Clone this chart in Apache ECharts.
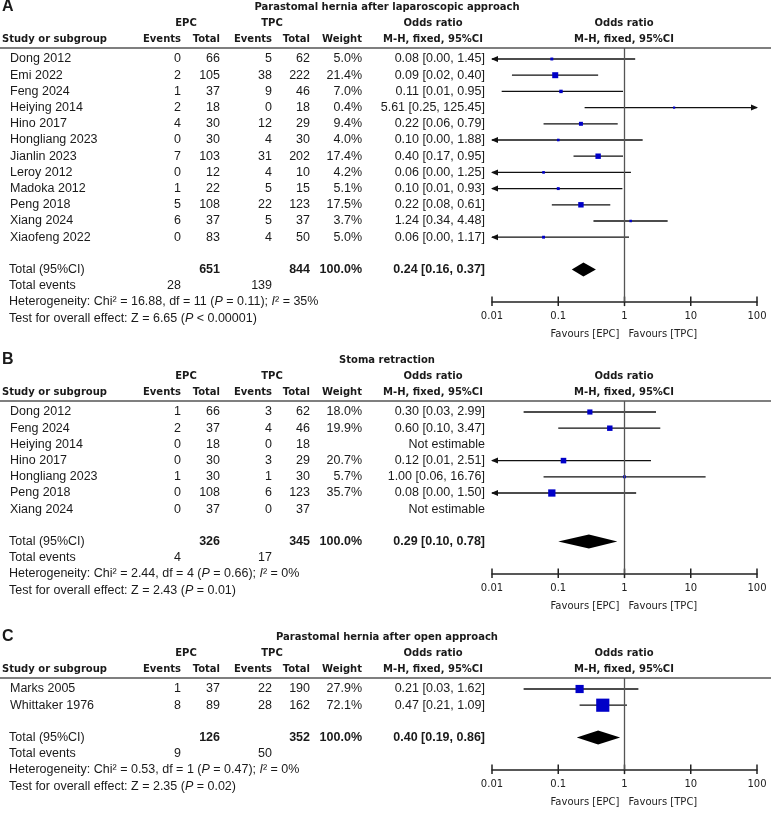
<!DOCTYPE html>
<html><head><meta charset="utf-8">
<script src="https://cdn.jsdelivr.net/npm/echarts@6/dist/echarts.min.js"></script>
<style>html,body{margin:0;padding:0;background:#fff}#c{width:771px;height:813px}</style>
</head><body><div id="c"></div>
<script>
// ---------- Panel A: Parastomal hernia after laparoscopic approach ----------
const A_studies = ['Dong 2012','Emi 2022','Feng 2024','Heiying 2014','Hino 2017','Hongliang 2023','Jianlin 2023','Leroy 2012','Madoka 2012','Peng 2018','Xiang 2024','Xiaofeng 2022'];
const A_epcEvents = [0,2,1,2,4,0,7,0,1,5,6,0];
const A_epcTotal  = [66,105,37,18,30,30,103,12,22,108,37,83];
const A_tpcEvents = [5,38,9,0,12,4,31,4,5,22,5,4];
const A_tpcTotal  = [62,222,46,18,29,30,202,10,15,123,37,50];
const A_weight    = [5.0,21.4,7.0,0.4,9.4,4.0,17.4,4.2,5.1,17.5,3.7,5.0];
const A_or        = [0.08,0.09,0.11,5.61,0.22,0.10,0.40,0.06,0.10,0.22,1.24,0.06];
const A_lo        = [0.00,0.02,0.014,0.25,0.06,0.00,0.17,0.00,0.008,0.08,0.34,0.00];
const A_hi        = [1.45,0.40,0.95,125.45,0.79,1.88,0.95,1.25,0.93,0.61,4.48,1.17];
const A_totals    = [651,844];
const A_totalOR   = [0.24,0.16,0.37];
const A_events    = [28,139];
const A_het       = ['16.88',11,'= 0.11',35];
const A_test      = ['6.65','< 0.00001'];

// ---------- Panel B: Stoma retraction ----------
const B_studies = ['Dong 2012','Feng 2024','Heiying 2014','Hino 2017','Hongliang 2023','Peng 2018','Xiang 2024'];
const B_epcEvents = [1,2,0,0,1,0,0];
const B_epcTotal  = [66,37,18,30,30,108,37];
const B_tpcEvents = [3,4,0,3,1,6,0];
const B_tpcTotal  = [62,46,18,29,30,123,37];
const B_weight    = [18.0,19.9,null,20.7,5.7,35.7,null];
const B_or        = [0.30,0.60,null,0.12,1.00,0.08,null];
const B_lo        = [0.03,0.10,null,0.006,0.06,0.00,null];
const B_hi        = [2.99,3.47,null,2.51,16.76,1.50,null];
const B_totals    = [326,345];
const B_totalOR   = [0.29,0.10,0.78];
const B_events    = [4,17];
const B_het       = ['2.44',4,'= 0.66',0];
const B_test      = ['2.43','= 0.01'];

// ---------- Panel C: Parastomal hernia after open approach ----------
const C_studies = ['Marks 2005','Whittaker 1976'];
const C_epcEvents = [1,8];
const C_epcTotal  = [37,89];
const C_tpcEvents = [22,28];
const C_tpcTotal  = [190,162];
const C_weight    = [27.9,72.1];
const C_or        = [0.21,0.47];
const C_lo        = [0.03,0.21];
const C_hi        = [1.62,1.09];
const C_totals    = [126,352];
const C_totalOR   = [0.40,0.19,0.86];
const C_events    = [9,50];
const C_het       = ['0.53',1,'= 0.47',0];
const C_test      = ['2.35','= 0.02'];

const tickLabels = ['0.01','0.1','1','10','100'];
const favours = ['Favours [EPC]','Favours [TPC]'];

// ---------- layout / style ----------
const ROW = 16.2;
const HB = 'bold 10px "DejaVu Sans"';
const REG = '12.5px "Liberation Sans"';
const REGB = 'bold 12.5px "Liberation Sans"';
const TXT = '#1a1a1a';
const COL = {name:10, foot:9, epcE:181, epcT:220, tpcE:272, tpcT:310, w:362, orR:485, orC:433, epcC:186, tpcC:272, title:387, plotC:624};

const panels = [
  {label:'A', title:'Parastomal hernia after laparoscopic approach', top:7, k:1.3,
   s:A_studies, ee:A_epcEvents, et:A_epcTotal, te:A_tpcEvents, tt:A_tpcTotal, w:A_weight, or:A_or, lo:A_lo, hi:A_hi,
   totals:A_totals, tor:A_totalOR, ev:A_events, het:A_het, test:A_test},
  {label:'B', title:'Stoma retraction', top:360, k:1.22,
   s:B_studies, ee:B_epcEvents, et:B_epcTotal, te:B_tpcEvents, tt:B_tpcTotal, w:B_weight, or:B_or, lo:B_lo, hi:B_hi,
   totals:B_totals, tor:B_totalOR, ev:B_events, het:B_het, test:B_test},
  {label:'C', title:'Parastomal hernia after open approach', top:637, k:1.55,
   s:C_studies, ee:C_epcEvents, et:C_epcTotal, te:C_tpcEvents, tt:C_tpcTotal, w:C_weight, or:C_or, lo:C_lo, hi:C_hi,
   totals:C_totals, tor:C_totalOR, ev:C_events, het:C_het, test:C_test}
];

function fmtOR(o,l,h){ return o.toFixed(2)+' ['+l.toFixed(2)+', '+h.toFixed(2)+']'; }
function T(x,text,align,font){ return {x, text:String(text), align:align||'left', font:font||REG}; }

function buildSpecs(p){
  const n = p.s.length, rows = [];
  rows.push({r:-52/ROW, items:[T(2,p.label,'left','bold 16px "Liberation Sans"'), T(COL.title,p.title,'center',HB)]});
  rows.push({r:-36/ROW, items:[T(COL.epcC,'EPC','center',HB),T(COL.tpcC,'TPC','center',HB),T(COL.orC,'Odds ratio','center',HB),T(COL.plotC,'Odds ratio','center',HB)]});
  rows.push({r:-20/ROW, items:[T(2,'Study or subgroup','left',HB),T(COL.epcE,'Events','right',HB),T(COL.epcT,'Total','right',HB),
      T(COL.tpcE,'Events','right',HB),T(COL.tpcT,'Total','right',HB),T(COL.w,'Weight','right',HB),
      T(COL.orC,'M-H, fixed, 95%CI','center',HB),T(COL.plotC,'M-H, fixed, 95%CI','center',HB)]});
  rows.push({r:-11/ROW, items:[], line:true});
  for(let j=0;j<n;j++){
    const it=[T(COL.name,p.s[j]),T(COL.epcE,p.ee[j],'right'),T(COL.epcT,p.et[j],'right'),T(COL.tpcE,p.te[j],'right'),T(COL.tpcT,p.tt[j],'right')];
    if(p.or[j]==null){ it.push(T(COL.orR,'Not estimable','right')); }
    else { it.push(T(COL.w,p.w[j].toFixed(1)+'%','right')); it.push(T(COL.orR,fmtOR(p.or[j],p.lo[j],p.hi[j]),'right')); }
    rows.push({r:j, items:it});
  }
  rows.push({r:n+1, items:[T(COL.foot,'Total (95%CI)'),T(COL.epcT,p.totals[0],'right',REGB),T(COL.tpcT,p.totals[1],'right',REGB),
      T(COL.w,'100.0%','right',REGB),T(COL.orR,fmtOR(p.tor[0],p.tor[1],p.tor[2]),'right',REGB)]});
  rows.push({r:n+2, items:[T(COL.foot,'Total events'),T(COL.epcE,p.ev[0],'right'),T(COL.tpcE,p.ev[1],'right')]});
  rows.push({r:n+3, items:[{x:COL.foot, align:'left', font:REG,
      text:'{n|Heterogeneity: Chi² = '+p.het[0]+', df = '+p.het[1]+' (}{i|P}{n| '+p.het[2]+'); }{i|I}{n|² = '+p.het[3]+'%}'}]});
  rows.push({r:n+4, items:[{x:COL.foot, align:'left', font:REG,
      text:'{n|Test for overall effect: Z = '+p.test[0]+' (}{i|P}{n| '+p.test[1]+')}'}]});
  return rows;
}

const rich = {
  n:{fontSize:12.5, fontFamily:'Liberation Sans', fill:TXT},
  i:{fontSize:12.5, fontFamily:'Liberation Sans', fontStyle:'italic', fill:TXT}
};

const grids=[], xAxes=[], yAxes=[], series=[];
panels.forEach((p,i)=>{
  const n = p.s.length;
  const yMin = -11/ROW, yMax = n+1+32/ROW;
  grids.push({left:492, width:265, top:p.top+41, height:ROW*(yMax-yMin), containLabel:false});
  xAxes.push({type:'log', logBase:10, min:0.01, max:100, gridIndex:i, position:'bottom',
    axisLine:{show:true, onZero:false, lineStyle:{color:'#222', width:1.5}}, axisTick:{show:false}, splitLine:{show:false},
    axisLabel:{margin:10, color:'#222', fontFamily:'DejaVu Sans', fontSize:10,
      formatter:v=>tickLabels[Math.round(Math.log10(v))+2]}});
  yAxes.push({type:'value', gridIndex:i, inverse:true, min:yMin, max:yMax, show:false});

  const specs = buildSpecs(p);
  series.push({type:'custom', xAxisIndex:i, yAxisIndex:i, clip:false, silent:true,
    data: specs.map(s=>[1,s.r]),
    renderItem:(params,api)=>{
      const s = specs[params.dataIndex];
      const y = api.coord([1,s.r])[1];
      const ch = s.items.map(t=>({type:'text', x:t.x, y:y,
        style:{text:t.text, align:t.align, verticalAlign:'middle', fill:TXT, font:t.font, rich:rich}}));
      if(s.line) ch.push({type:'line', shape:{x1:0,y1:y,x2:771,y2:y}, style:{stroke:'#555', lineWidth:1.6}});
      return {type:'group', children:ch};
    }});

  // study CIs and squares
  const ciData=[];
  for(let j=0;j<n;j++) if(p.or[j]!=null) ciData.push([p.or[j], j, p.lo[j], p.hi[j], p.w[j]]);
  series.push({type:'custom', xAxisIndex:i, yAxisIndex:i, clip:false, silent:true, data:ciData,
    renderItem:(params,api)=>{
      const o=api.value(0), r=api.value(1), lo=api.value(2), hi=api.value(3), w=api.value(4);
      const c=api.coord([o,r]), y=c[1];
      const xl=api.coord([Math.max(lo,0.01),r])[0], xh=api.coord([Math.min(hi,100),r])[0];
      const ch=[{type:'line', shape:{x1:xl,y1:y,x2:xh,y2:y}, style:{stroke:'#111', lineWidth:1.3}}];
      if(lo<0.01) ch.push({type:'polygon', shape:{points:[[xl-1,y],[xl+6,y-3],[xl+6,y+3]]}, style:{fill:'#111'}});
      if(hi>100) ch.push({type:'polygon', shape:{points:[[xh+1,y],[xh-6,y-3],[xh-6,y+3]]}, style:{fill:'#111'}});
      const sz=Math.max(2.2, p.k*Math.sqrt(w));
      ch.push({type:'rect', shape:{x:c[0]-sz/2, y:y-sz/2, width:sz, height:sz}, style:{fill:'#0000c8'}});
      return {type:'group', children:ch};
    },
    markLine:{silent:true, symbol:'none', label:{show:false}, animation:false,
      lineStyle:{color:'#555', width:1.3, type:'solid'}, data:[{xAxis:1}]}
  });

  // pooled diamond
  series.push({type:'custom', xAxisIndex:i, yAxisIndex:i, clip:false, silent:true,
    data:[[p.tor[0], n+1, p.tor[1], p.tor[2]]],
    renderItem:(params,api)=>{
      const o=api.value(0), r=api.value(1);
      const c=api.coord([o,r]), xl=api.coord([api.value(2),r])[0], xh=api.coord([api.value(3),r])[0];
      return {type:'polygon', shape:{points:[[xl,c[1]],[c[0],c[1]-7],[xh,c[1]],[c[0],c[1]+7]]}, style:{fill:'#000'}};
    }});

  // axis ticks crossing the line, and favours labels
  series.push({type:'custom', xAxisIndex:i, yAxisIndex:i, clip:false, silent:true,
    data: tickLabels.map(t=>[parseFloat(t), yMax]),
    renderItem:(params,api)=>{
      const c=api.coord([api.value(0), api.value(1)]);
      const ch=[{type:'line', shape:{x1:c[0],y1:c[1]-5,x2:c[0],y2:c[1]+4.5}, style:{stroke:'#222', lineWidth:1.5}}];
      if(params.dataIndex===2){
        const fy=c[1]+33;
        ch.push({type:'text', x:c[0]-5, y:fy, style:{text:favours[0], align:'right', verticalAlign:'middle', fill:'#222', font:'10px "DejaVu Sans"'}});
        ch.push({type:'text', x:c[0]+4, y:fy, style:{text:favours[1], align:'left', verticalAlign:'middle', fill:'#222', font:'10px "DejaVu Sans"'}});
      }
      return {type:'group', children:ch};
    }});
});

const chart = echarts.init(document.getElementById('c'), null, {renderer:'canvas'});
chart.setOption({animation:false, backgroundColor:'#fff', grid:grids, xAxis:xAxes, yAxis:yAxes, series:series});
</script>
</body></html>
